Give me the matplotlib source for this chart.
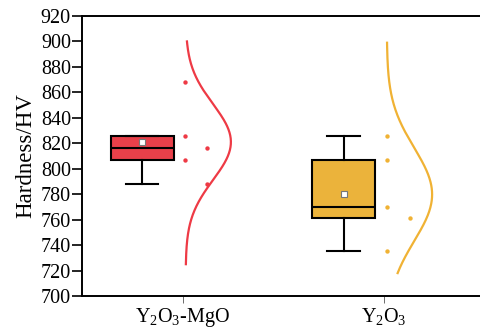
import numpy as np
import matplotlib
matplotlib.use("Agg")
import matplotlib.pyplot as plt

plt.rcParams['font.family'] = ['Liberation Serif', 'DejaVu Serif']
plt.rcParams['mathtext.fontset'] = 'custom'
plt.rcParams['mathtext.rm'] = 'Liberation Serif'
plt.rcParams['mathtext.it'] = 'Liberation Serif:italic'

categories = [r'Y$_2$O$_3$-MgO', r'Y$_2$O$_3$']
hardness_mgo = [868, 826, 816, 807, 788]
hardness_y2o3 = [826, 807, 770, 761, 735]
series = [hardness_mgo, hardness_y2o3]
# range over which the normal curves are drawn
curve_ranges = [(725, 900), (718, 899)]
yticks = list(range(700, 921, 20))

fill_colors = ['#E8404A', '#EBB33B']
line_colors = ['#EE3A45', '#F0B234']
jitter = [[0.01, 0.01, 0.12, 0.01, 0.12], [0.018, 0.018, 0.018, 0.13, 0.018]]

fig = plt.figure(figsize=(4.8, 3.31), dpi=100)
ax = fig.add_axes([82 / 480, 35 / 331, 1 - 82 / 480, 280 / 331])

pos = np.arange(1, len(categories) + 1)
box_off = -0.2
bp = ax.boxplot(series, positions=pos + box_off, widths=0.31, whis=1.5,
                showfliers=False, showmeans=True, patch_artist=True,
                medianprops=dict(color='black', lw=1.5),
                boxprops=dict(edgecolor='black', lw=1.5),
                whiskerprops=dict(color='black', lw=1.5),
                capprops=dict(color='black', lw=1.5),
                meanprops=dict(marker='s', markerfacecolor='white',
                               markeredgecolor='#777777', markersize=4.5,
                               markeredgewidth=0.8))
for cap in bp['caps']:
    xd = cap.get_xdata()
    c = np.mean(xd)
    cap.set_xdata([c - 0.08, c + 0.08])
for patch, fc in zip(bp['boxes'], fill_colors):
    patch.set_facecolor(fc)

curve_base = 0.015
curve_width = 0.225
for i, (vals, rng) in enumerate(zip(series, curve_ranges)):
    v = np.array(vals, dtype=float)
    mu, sd = v.mean(), v.std(ddof=1)
    yy = np.linspace(rng[0], rng[1], 300)
    dens = np.exp(-0.5 * ((yy - mu) / sd) ** 2)
    ax.plot(pos[i] + curve_base + curve_width * dens, yy, color=line_colors[i], lw=1.6)
    ax.scatter(pos[i] + np.array(jitter[i]), v, s=10, color=line_colors[i], zorder=3, lw=0)

ax.set_xlim(0.5, 2.478)
ax.set_ylim(700, 920)
ax.set_yticks(yticks)
ax.set_xticks(pos)
ax.set_xticklabels(categories, fontsize=14.5)
ax.tick_params(axis='y', labelsize=14.5, length=7, width=1.2, direction='out', pad=1)
ax.tick_params(axis='x', length=5, width=0.6, color='#555555', direction='out', pad=2)
ax.spines['right'].set_visible(False)
for s in ['left', 'top', 'bottom']:
    ax.spines[s].set_linewidth(1.4)
ax.set_ylabel('Hardness/HV', fontsize=16.5, labelpad=3)

fig.savefig('out.png', dpi=100)
